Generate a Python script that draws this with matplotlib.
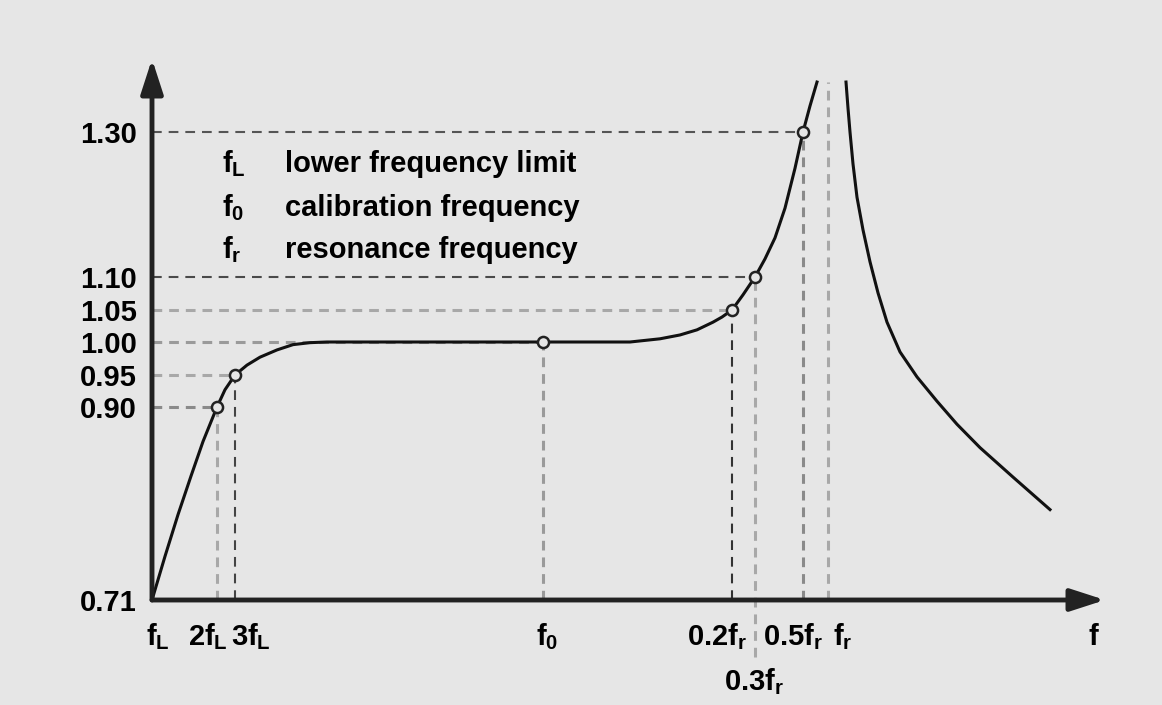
import numpy as np
import matplotlib.pyplot as plt

plt.rcParams['font.family'] = 'Liberation Sans'
plt.rcParams['font.weight'] = 'bold'
plt.rcParams['mathtext.fontset'] = 'custom'
plt.rcParams['mathtext.rm'] = 'Liberation Sans:bold'
plt.rcParams['mathtext.it'] = 'Liberation Sans:bold'
plt.rcParams['mathtext.bf'] = 'Liberation Sans:bold'

# --- data (frequency axis is schematic, response) ---
tick_values = [0.71, 0.90, 0.95, 1.00, 1.05, 1.10, 1.30]
tick_labels = ['0.71', '0.90', '0.95', '1.00', '1.05', '1.10', '1.30']

rise_f = [0, 13, 26, 39, 51, 65, 73, 83, 95, 108, 125, 141, 158, 175,
          478, 508, 528, 545, 561, 570, 580, 591, 603, 613, 623, 633, 643,
          651, 658, 665]
rise_r = [0.71, 0.753, 0.794, 0.832, 0.866, 0.90, 0.927, 0.95, 0.965, 0.977,
          0.988, 0.996, 0.999, 1.00, 1.00, 1.005, 1.011, 1.019, 1.031, 1.039,
          1.05, 1.073, 1.10, 1.125, 1.154, 1.195, 1.250, 1.30, 1.336, 1.369]
fall_f = [694, 696, 698, 701, 705, 711, 718, 726, 735, 748, 765, 785, 805,
          828, 861, 898]
fall_r = [1.369, 1.333, 1.300, 1.256, 1.210, 1.165, 1.121, 1.076, 1.031,
          0.985, 0.947, 0.909, 0.883, 0.860, 0.831, 0.799]

point_f = [65, 83, 391, 580, 603, 651]
point_r = [0.90, 0.95, 1.00, 1.05, 1.10, 1.30]
fr_f = 676
fr_top = 1.369
low_end = 0.654   # 0.3f_r guide runs below the axis

freq_names = [r'$f_L$', r'$2f_L$', r'$3f_L$', r'$f_0$', r'$0.2f_r$',
              r'$0.3f_r$', r'$0.5f_r$', r'$f_r$']
legend_syms = [r'$f_L$', r'$f_0$', r'$f_r$']
legend_text = ['lower frequency limit', 'calibration frequency',
               'resonance frequency']

# --- layout ---
W, H = 1162, 705
bg = '#e6e6e6'
scale_vals = [0.40, 0.71, 0.90, 0.95, 1.00, 1.05, 1.10, 1.30, 1.80]
scale_pos = [-315, 0, 193, 225, 258, 290, 323, 468, 830]

def fwd(v):
    return np.interp(v, scale_vals, scale_pos)

def inv(p):
    return np.interp(p, scale_pos, scale_vals)

h_colors = ['#8a8a8a', '#a8a8a8', '#9a9a9a', '#a8a8a8', '#4a4a4a', '#555555']
v_colors = ['#a8a8a8', '#444444', '#9a9a9a', '#333333', '#a8a8a8', '#8a8a8a']

fig = plt.figure(figsize=(W / 100, H / 100), dpi=100, facecolor=bg)
ax = fig.add_axes([152 / W, 105 / H, (1105 - 152) / W, 541 / H])
ax.set_facecolor('none')
ax.set_yscale('function', functions=(fwd, inv))
ax.set_xlim(0, 953)
ax.set_ylim(0.71, inv(541))
for s in ax.spines.values():
    s.set_visible(False)


def dashed(xs, ys, color, **kw):
    lw = 1.5 if color < '#7' else 2.2
    ax.plot(xs, ys, color=color, lw=lw, dashes=(7 / lw, 5 / lw),
            solid_capstyle='butt', zorder=1, **kw)


for f, r, hc, vc in zip(point_f, point_r, h_colors, v_colors):
    dashed([0, f], [r, r], hc)
    bottom = low_end if f == 603 else 0.71
    dashed([f, f], [bottom, r], vc, clip_on=False)
dashed([fr_f, fr_f], [0.71, fr_top], '#a8a8a8')

ax.plot(rise_f, rise_r, color='#111111', lw=2.2, zorder=3,
        solid_joinstyle='round')
ax.plot(fall_f, fall_r, color='#111111', lw=2.2, zorder=3,
        solid_joinstyle='round')
ax.plot(point_f, point_r, 'o', ms=8, mfc=bg, mec='#222222', mew=1.8, zorder=4)

# axes with arrows
arrow = dict(arrowstyle='-|>,head_length=1.05,head_width=0.34', color='#222222',
             lw=3.5, shrinkA=0, shrinkB=0, mutation_scale=20)
ax.annotate('', xy=(0, 1), xytext=(0, 0), xycoords='axes fraction',
            arrowprops=arrow, annotation_clip=False)
ax.annotate('', xy=(1, 0), xytext=(0, 0), xycoords='axes fraction',
            arrowprops=arrow, annotation_clip=False)

ax.set_xticks([])
ax.set_yticks(tick_values, tick_labels)
ax.yaxis.set_minor_locator(plt.NullLocator())
ax.tick_params(axis='y', length=0, pad=11, labelsize=21)

def fig_xy(x, y):
    return x / W, 1 - y / H

label_x = [158, 208, 251, 547, 717, 754, 793, 843]
label_y = [645, 645, 645, 645, 645, 690, 645, 645]
for name, lx, ly in zip(freq_names, label_x, label_y):
    fig.text(*fig_xy(lx, ly), name, ha='center', va='baseline', fontsize=21)
fig.text(*fig_xy(1093, 645), 'f', ha='center', va='baseline', fontsize=21)

for sym, txt, by in zip(legend_syms, legend_text, [172, 216, 258]):
    fig.text(*fig_xy(222, by), sym, ha='left', va='baseline', fontsize=21)
    fig.text(*fig_xy(285, by), txt, ha='left', va='baseline', fontsize=21)

fig.savefig('out.png', dpi=100, facecolor=bg)
